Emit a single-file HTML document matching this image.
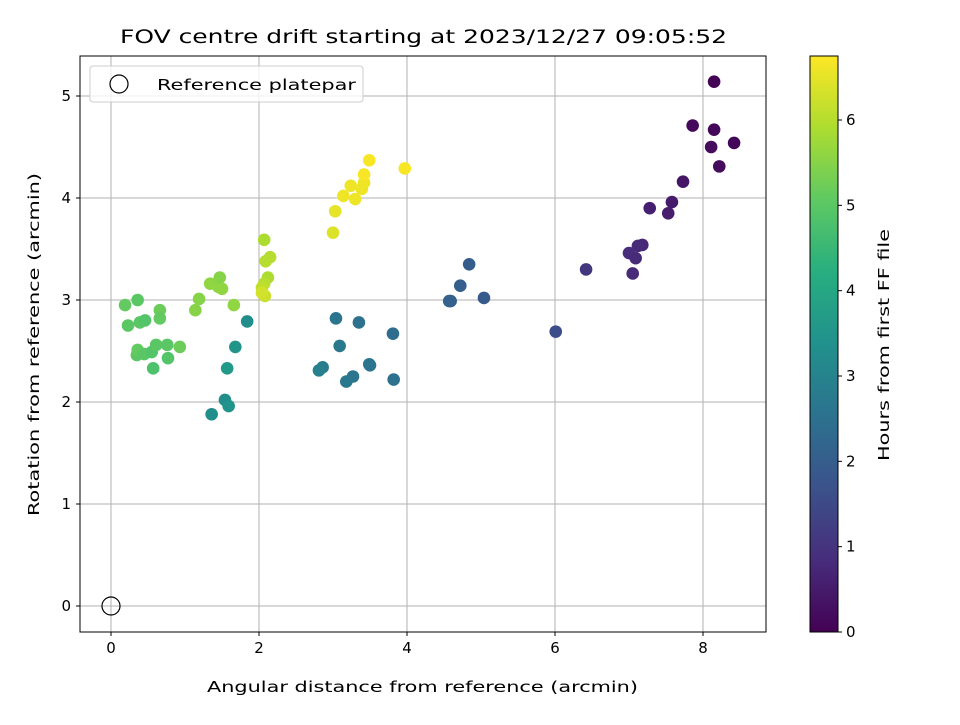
<!DOCTYPE html>
<html><head><meta charset="utf-8"><style>
body{margin:0;background:#fff;font-family:"Liberation Sans","DejaVu Sans",sans-serif}
svg text{font-family:"DejaVu Sans","Liberation Sans",sans-serif;fill:#000}
</style></head><body>
<svg id="chart" width="960" height="720" viewBox="0 0 960 720" xmlns="http://www.w3.org/2000/svg">
<defs><linearGradient id="vir" x1="0" y1="1" x2="0" y2="0">
<stop offset="0" stop-color="#440154"/><stop offset="0.125" stop-color="#472d7b"/><stop offset="0.25" stop-color="#3b528b"/><stop offset="0.375" stop-color="#2c728e"/><stop offset="0.5" stop-color="#21918c"/><stop offset="0.625" stop-color="#28ae80"/><stop offset="0.75" stop-color="#5ec962"/><stop offset="0.875" stop-color="#addc30"/><stop offset="1" stop-color="#fde725"/></linearGradient></defs>
<rect x="0" y="0" width="960" height="720" fill="#fff"/>
<g id="grid"></g><g id="pts"></g>
<rect x="80" y="56" width="686" height="576" fill="none" stroke="#000" stroke-width="1"/>
<g id="axes"></g>
<text x="120" y="43" font-size="19" textLength="607" lengthAdjust="spacingAndGlyphs">FOV centre drift starting at 2023/12/27 09:05:52</text>
<text x="207" y="692" font-size="15" textLength="431" lengthAdjust="spacingAndGlyphs">Angular distance from reference (arcmin)</text>
<text transform="translate(39,516) rotate(-90)" font-size="15" textLength="343" lengthAdjust="spacingAndGlyphs">Rotation from reference (arcmin)</text>
<g>
<rect x="90" y="66" width="273" height="36" rx="3" fill="#fff" fill-opacity="0.8" stroke="#ccc"/>
<circle cx="119" cy="84" r="9" fill="none" stroke="#000" stroke-width="1.2"/>
<text x="157" y="90" font-size="15" textLength="199" lengthAdjust="spacingAndGlyphs">Reference platepar</text></g>
<rect x="810" y="56" width="28" height="576" fill="url(#vir)" stroke="#000" stroke-width="1"/>
<g id="cbar"></g>
<text transform="translate(889,461) rotate(-90)" font-size="15" textLength="232" lengthAdjust="spacingAndGlyphs">Hours from first FF file</text>
</svg>
<script>
const xs=[8.15,7.86,8.15,8.11,8.42,8.22,7.73,7.58,7.53,7.28,7.18,7.12,7.0,7.09,7.05,6.42,6.01,5.04,4.84,4.72,4.59,4.57,3.81,3.82,3.5,3.49,3.35,3.04,3.09,3.27,3.18,2.86,2.81,1.84,1.68,1.57,1.54,1.59,1.36,0.19,0.23,0.36,0.39,0.46,0.35,0.36,0.45,0.55,0.57,0.61,0.66,0.66,0.76,0.77,0.93,1.14,1.19,1.34,1.45,1.47,1.5,1.66,2.07,2.15,2.09,2.12,2.07,2.04,2.08,2.04,3.0,3.03,3.14,3.24,3.30,3.39,3.42,3.42,3.49,3.97];
const ys=[5.14,4.71,4.67,4.50,4.54,4.31,4.16,3.96,3.85,3.90,3.54,3.53,3.46,3.41,3.26,3.30,2.69,3.02,3.35,3.14,2.99,2.99,2.67,2.22,2.36,2.37,2.78,2.82,2.55,2.25,2.20,2.34,2.31,2.79,2.54,2.33,2.02,1.96,1.88,2.95,2.75,3.0,2.78,2.80,2.46,2.51,2.47,2.49,2.33,2.56,2.90,2.82,2.56,2.43,2.54,2.90,3.01,3.16,3.13,3.22,3.11,2.95,3.59,3.42,3.38,3.22,3.16,3.12,3.04,3.07,3.66,3.87,4.02,4.12,3.99,4.09,4.15,4.23,4.37,4.29];
const hours=[0.05,0.15,0.1,0.2,0.1,0.2,0.4,0.5,0.55,0.6,0.75,0.8,0.85,0.8,0.8,1.1,1.6,1.9,1.95,2.0,2.05,2.1,2.4,2.5,2.6,2.6,2.5,2.6,2.7,2.6,2.7,2.8,2.9,3.3,3.5,3.6,3.3,3.4,3.3,5.1,5.0,5.0,5.0,4.9,5.0,5.1,5.0,4.9,4.8,5.0,5.2,5.1,5.0,4.9,5.2,5.5,5.5,5.6,5.6,5.5,5.6,5.6,5.9,6.0,6.0,5.9,6.0,6.1,6.2,6.3,6.4,6.5,6.6,6.6,6.6,6.6,6.6,6.7,6.7,6.7];
const xTicks=[0,2,4,6,8];
const yTicks=[0,1,2,3,4,5];
const cTicks=[0,1,2,3,4,5,6];
const X=v=>111+v*74, Y=v=>606-v*102, C=v=>632-v*(576/6.75);
const NS="http://www.w3.org/2000/svg";
const vir=[[68,1,84],[71,45,123],[59,82,139],[44,114,142],[33,145,140],[40,174,128],[94,201,98],[173,220,48],[253,231,37]];
function col(h){let t=Math.max(0,Math.min(1,h/6.75))*8,i=Math.min(7,Math.floor(t)),f=t-i,a=vir[i],b=vir[i+1];
return `rgb(${a.map((v,k)=>Math.round(v+(b[k]-v)*f)).join(',')})`;}
function mk(p,tag,at){const e=document.createElementNS(NS,tag);for(const k in at)e.setAttribute(k,at[k]);p.appendChild(e);return e;}
const g=document.getElementById('grid'),ax=document.getElementById('axes'),pts=document.getElementById('pts'),cb=document.getElementById('cbar');
xTicks.forEach(t=>{const x=X(t);
const l=mk(g,'line',{x1:x,x2:x,y1:56,y2:632,stroke:'#b0b0b0','stroke-width':1});

mk(ax,'line',{x1:x,x2:x,y1:632,y2:636,stroke:'#000'});
const tx=mk(ax,'text',{x:x,y:653,'font-size':15,'text-anchor':'middle'});tx.textContent=t;
});
yTicks.forEach(t=>{const y=Y(t);
const l=mk(g,'line',{x1:80,x2:766,y1:y,y2:y,stroke:'#b0b0b0','stroke-width':1});

mk(ax,'line',{x1:76,x2:80,y1:y,y2:y,stroke:'#000'});
const tx=mk(ax,'text',{x:71,y:y+5,'font-size':15,'text-anchor':'end'});tx.textContent=t;
});
cTicks.forEach(t=>{const y=C(t);
mk(cb,'line',{x1:838,x2:842,y1:y,y2:y,stroke:'#000'});
const tx=mk(cb,'text',{x:846,y:y+5,'font-size':15});tx.textContent=t;
});
xs.forEach((v,i)=>{const c=mk(pts,'circle',{cx:X(v),cy:Y(ys[i]),r:6.3,fill:col(hours[i])});
});
const ref=mk(pts,'circle',{cx:X(0),cy:Y(0),r:9,fill:'none',stroke:'#000','stroke-width':1.2});

</script>
</body></html>
